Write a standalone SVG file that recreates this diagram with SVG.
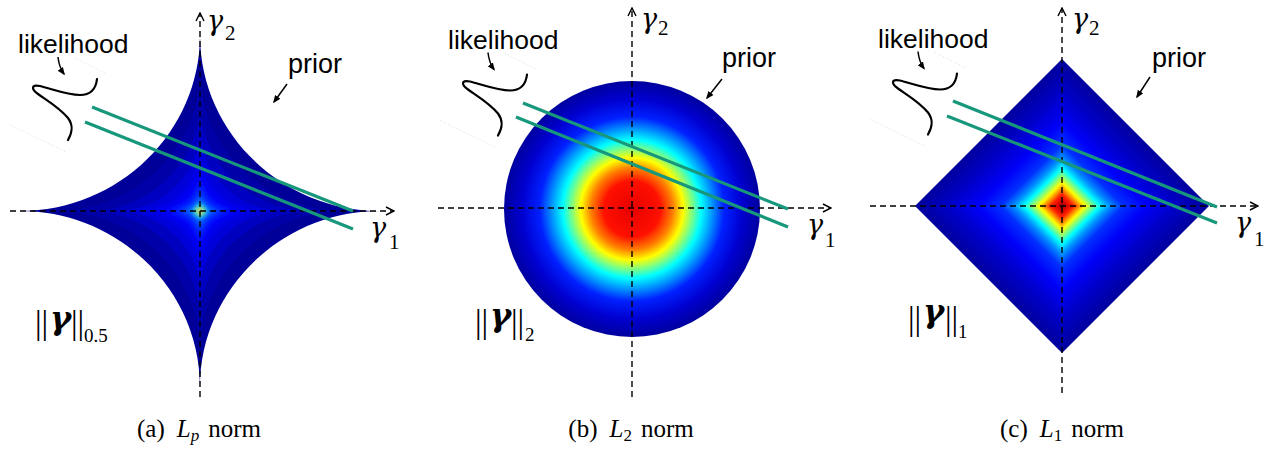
<svg xmlns="http://www.w3.org/2000/svg" xmlns:xlink="http://www.w3.org/1999/xlink" width="1274" height="450" viewBox="0 0 1274 450">
<style>
.ax{stroke:#000;stroke-width:1.4;stroke-dasharray:6 4;fill:none;marker-end:url(#axh)}
.gr{stroke:#17977b;stroke-width:3.2;fill:none}
.lk{font-family:"Liberation Sans",Arial,sans-serif;font-size:26.5px;fill:#000}
.pr{font-family:"Liberation Sans",Arial,sans-serif;font-size:27px;fill:#000}
.par{stroke:#000;stroke-width:1.5;fill:none;marker-end:url(#arh)}
.curve{stroke:#000;stroke-width:2.2;fill:none;stroke-linecap:round}
.faint{stroke:#d4d4d4;stroke-width:0.8;stroke-dasharray:1 2;fill:none}
.gm{font-family:"DejaVu Serif",serif;font-style:italic;font-size:27px;fill:#000}
.sub{font-family:"Liberation Serif","Times New Roman",serif;font-style:normal;font-size:21px;fill:#000}
.bar{font-family:"Liberation Serif","Times New Roman",serif;font-size:33px;fill:#000}
.bg{font-family:"DejaVu Serif",serif;font-weight:bold;font-style:italic;font-size:32px;fill:#000}
.ns{font-family:"Liberation Serif","Times New Roman",serif;font-size:19px;fill:#000}
.cap{font-family:"Liberation Serif","Times New Roman",serif;font-size:25px;fill:#000}
</style>
<defs>
<marker id="axh" viewBox="0 0 10 10" refX="9" refY="5" markerWidth="10" markerHeight="10" orient="auto" markerUnits="userSpaceOnUse"><path d="M1,1 L9,5 L1,9" fill="none" stroke="#000" stroke-width="1.4"/></marker>
<marker id="arh" viewBox="0 0 10 10" refX="8" refY="5" markerWidth="8" markerHeight="8" orient="auto" markerUnits="userSpaceOnUse"><path d="M0,1 L10,5 L0,9 Z" fill="#000"/></marker>
<path id="star" d="M1,0 C0.45,0 0,-0.45 0,-1 C0,-0.45 -0.45,0 -1,0 C-0.45,0 0,0.45 0,1 C0,0.45 0.45,0 1,0 Z"/>
<filter id="blur" x="-50%" y="-50%" width="200%" height="200%"><feGaussianBlur stdDeviation="2.5"/></filter>
<radialGradient id="cg" cx="632" cy="209" r="128" gradientUnits="userSpaceOnUse">
<stop offset="0" stop-color="#e80000"/>
<stop offset="0.22" stop-color="#ff1000"/>
<stop offset="0.32" stop-color="#ff8000"/>
<stop offset="0.40" stop-color="#ffff00"/>
<stop offset="0.47" stop-color="#80ff80"/>
<stop offset="0.54" stop-color="#00ffff"/>
<stop offset="0.63" stop-color="#0090ff"/>
<stop offset="0.72" stop-color="#0020ff"/>
<stop offset="0.86" stop-color="#0000d0"/>
<stop offset="1" stop-color="#00009e"/>
</radialGradient>
<linearGradient id="dg1" x1="1062" y1="206" x2="1135.5" y2="132.5" gradientUnits="userSpaceOnUse">
<stop offset="0" stop-color="#800000"/>
<stop offset="0.03" stop-color="#d00000"/>
<stop offset="0.08" stop-color="#ff2000"/>
<stop offset="0.12" stop-color="#ff9000"/>
<stop offset="0.16" stop-color="#ffff00"/>
<stop offset="0.21" stop-color="#80ff80"/>
<stop offset="0.26" stop-color="#00ffff"/>
<stop offset="0.33" stop-color="#0090ff"/>
<stop offset="0.42" stop-color="#0030ff"/>
<stop offset="0.58" stop-color="#0000f8"/>
<stop offset="0.78" stop-color="#0000c8"/>
<stop offset="1" stop-color="#00009c"/>
</linearGradient>
<linearGradient id="dg2" href="#dg1" xlink:href="#dg1" x1="1062" y1="206" x2="988.5" y2="132.5" gradientUnits="userSpaceOnUse"/>
<linearGradient id="dg3" href="#dg1" xlink:href="#dg1" x1="1062" y1="206" x2="988.5" y2="279.5" gradientUnits="userSpaceOnUse"/>
<linearGradient id="dg4" href="#dg1" xlink:href="#dg1" x1="1062" y1="206" x2="1135.5" y2="279.5" gradientUnits="userSpaceOnUse"/>
</defs>
<rect width="1274" height="450" fill="#fff"/>

<!-- Panel (a) -->
<g id="panel-a">
<g id="prior-a">
<use href="#star" xlink:href="#star" transform="translate(200,211) scale(180,176)" fill="#000098"/>
<use href="#star" xlink:href="#star" transform="translate(200,211) scale(144,140.8)" fill="#0000a8"/>
<use href="#star" xlink:href="#star" transform="translate(200,211) scale(111.6,109.1)" fill="#0000c0"/>
<use href="#star" xlink:href="#star" transform="translate(200,211) scale(84.6,82.7)" fill="#0000d8"/>
<g filter="url(#blur)">
<use href="#star" xlink:href="#star" transform="translate(200,211) scale(63,61.6)" fill="#0000f0"/>
<use href="#star" xlink:href="#star" transform="translate(200,211) scale(45,44)" fill="#0008ff"/>
<use href="#star" xlink:href="#star" transform="translate(200,211) scale(30.6,29.9)" fill="#0030ff"/>
<use href="#star" xlink:href="#star" transform="translate(200,211) scale(19.8,19.4)" fill="#0064ff"/>
<use href="#star" xlink:href="#star" transform="translate(200,211) scale(12.6,12.3)" fill="#00a0ff"/>
<use href="#star" xlink:href="#star" transform="translate(200,211) scale(8.1,7.9)" fill="#00e0ff"/>
</g>
<g filter="url(#blur)">
<circle cx="200" cy="211" r="5" fill="#60ffa0"/>
<circle cx="200" cy="211" r="3.5" fill="#ffff00"/>
<circle cx="200" cy="211" r="2.2" fill="#ff4000"/>
<circle cx="200" cy="211" r="1.2" fill="#a00000"/>
</g>
</g>
<g id="axes-a">
<line class="ax" x1="200" y1="397" x2="200" y2="13"/>
<line class="ax" x1="10" y1="211" x2="394" y2="211"/>
</g>
<g id="lines-a">
<line class="gr" x1="92" y1="107" x2="353" y2="211"/>
<line class="gr" x1="85" y1="122" x2="353" y2="229"/>
</g>
<g id="likelihood-a">
<line class="faint" x1="75" y1="58" x2="107" y2="74"/>
<line class="faint" x1="10" y1="125" x2="66" y2="152"/>
<text class="lk" x="18" y="53">likelihood</text>
<path class="par" d="M58,57 Q59,67 64,74"/>
<path class="curve" d="M97,79 C96,88 92,95 80,95 C68,95 52,89 40,86 C30,84 32,90 38,94 C48,101 60,108 68,118 C74,126 72,133 68,140"/>
</g>
<g id="prior-label-a">
<text class="pr" x="288" y="73">prior</text>
<line class="par" x1="287" y1="84" x2="274" y2="102"/>
</g>
<text class="gm" x="207" y="30">γ<tspan class="sub" x="225" y="40">2</tspan></text>
<text class="gm" x="370" y="237">γ<tspan class="sub" x="389" y="249">1</tspan></text>
<text id="norm-a"><tspan class="bar" x="35" y="334">||</tspan><tspan class="bg" x="50" y="329">γ</tspan><tspan class="bar" x="71" y="334">||</tspan><tspan class="ns" x="84" y="342">0.5</tspan></text>
<text class="cap" x="199" y="437" text-anchor="middle">(a)<tspan dx="12" font-style="italic">L</tspan><tspan font-style="italic" font-size="17" dy="4">p</tspan><tspan dy="-4" dx="9">norm</tspan></text>
</g>

<!-- Panel (b) -->
<g id="panel-b">
<circle id="prior-b" cx="632" cy="209" r="128" fill="url(#cg)"/>
<g id="axes-b">
<line class="ax" x1="632" y1="397" x2="632" y2="8"/>
<line class="ax" x1="438" y1="208" x2="831" y2="208"/>
</g>
<g id="lines-b">
<line class="gr" x1="523" y1="103" x2="788" y2="209"/>
<line class="gr" x1="516" y1="117" x2="788" y2="227"/>
</g>
<g id="likelihood-b" transform="translate(430,-4.5)">
<line class="faint" x1="75" y1="58" x2="107" y2="74"/>
<line class="faint" x1="10" y1="125" x2="66" y2="152"/>
<text class="lk" x="18" y="53">likelihood</text>
<path class="par" d="M58,57 Q59,67 64,74"/>
<path class="curve" d="M97,79 C96,88 92,95 80,95 C68,95 52,89 40,86 C30,84 32,90 38,94 C48,101 60,108 68,118 C74,126 72,133 68,140"/>
</g>
<g id="prior-label-b">
<text class="pr" x="722" y="67">prior</text>
<line class="par" x1="722" y1="79" x2="707" y2="98"/>
</g>
<text class="gm" x="641" y="28">γ<tspan class="sub" x="658" y="35">2</tspan></text>
<text class="gm" x="807" y="234">γ<tspan class="sub" x="825" y="247">1</tspan></text>
<text id="norm-b"><tspan class="bar" x="475" y="333">||</tspan><tspan class="bg" x="490" y="326">γ</tspan><tspan class="bar" x="511" y="333">||</tspan><tspan class="ns" x="525" y="341">2</tspan></text>
<text class="cap" x="631" y="437" text-anchor="middle">(b)<tspan dx="12" font-style="italic">L</tspan><tspan font-size="17" dy="4">2</tspan><tspan dy="-4" dx="9">norm</tspan></text>
</g>

<!-- Panel (c) -->
<g id="panel-c">
<g id="prior-c">
<polygon points="1062,206 1209,206 1062,59" fill="url(#dg1)"/>
<polygon points="1062,206 915,206 1062,59" fill="url(#dg2)"/>
<polygon points="1062,206 915,206 1062,353" fill="url(#dg3)"/>
<polygon points="1062,206 1209,206 1062,353" fill="url(#dg4)"/>
</g>
<g id="axes-c">
<line class="ax" x1="1062" y1="393" x2="1062" y2="8"/>
<line class="ax" x1="870" y1="206" x2="1258" y2="206"/>
</g>
<g id="lines-c">
<line class="gr" x1="953" y1="101" x2="1217" y2="207"/>
<line class="gr" x1="947" y1="116" x2="1217" y2="223"/>
</g>
<g id="likelihood-c" transform="translate(860,-5.5)">
<line class="faint" x1="75" y1="58" x2="107" y2="74"/>
<line class="faint" x1="10" y1="125" x2="66" y2="152"/>
<text class="lk" x="18" y="53">likelihood</text>
<path class="par" d="M58,57 Q59,67 64,74"/>
<path class="curve" d="M97,79 C96,88 92,95 80,95 C68,95 52,89 40,86 C30,84 32,90 38,94 C48,101 60,108 68,118 C74,126 72,133 68,140"/>
</g>
<g id="prior-label-c">
<text class="pr" x="1152" y="67">prior</text>
<line class="par" x1="1150" y1="77" x2="1137" y2="97"/>
</g>
<text class="gm" x="1072" y="28">γ<tspan class="sub" x="1089" y="35">2</tspan></text>
<text class="gm" x="1235" y="232">γ<tspan class="sub" x="1254" y="246">1</tspan></text>
<text id="norm-c"><tspan class="bar" x="908" y="330">||</tspan><tspan class="bg" x="923" y="322">γ</tspan><tspan class="bar" x="945" y="330">||</tspan><tspan class="ns" x="958" y="338">1</tspan></text>
<text class="cap" x="1062" y="437" text-anchor="middle">(c)<tspan dx="12" font-style="italic">L</tspan><tspan font-size="17" dy="4">1</tspan><tspan dy="-4" dx="9">norm</tspan></text>
</g>
</svg>
